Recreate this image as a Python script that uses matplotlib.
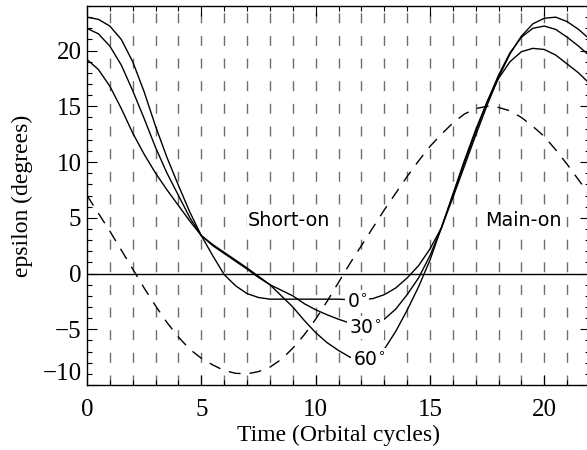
import matplotlib
matplotlib.use('Agg')
import matplotlib.pyplot as plt
from matplotlib.ticker import MultipleLocator

plt.rcParams['font.family'] = ['Liberation Serif', 'DejaVu Serif']
plt.rcParams['mathtext.fontset'] = 'dejavusans'

# ---- data ----
t = [0, 0.5, 1, 1.5, 2, 2.5, 3, 3.5, 4, 4.5, 5, 5.5, 6, 6.5, 7, 7.5, 8, 8.5,
     9, 9.5, 10, 10.5, 11, 11.5, 12, 12.5, 13, 13.5, 14, 14.5, 15, 15.5, 16,
     16.5, 17, 17.5, 18, 18.5, 19, 19.5, 20, 20.5, 21, 21.5, 22]

eps_0 = [23.0, 22.8, 22.2, 21.0, 19.0, 16.3, 13.2, 10.4, 7.9, 5.5, 3.4, 1.6,
         -0.1, -1.1, -1.8, -2.15, -2.3, -2.3, -2.3, -2.3, -2.3, -2.3, -2.3,
         -2.35, -2.35, -2.25, -1.9, -1.3, -0.4, 0.7, 2.2, 4.1, 6.8, 9.6, 12.4,
         15.1, 17.6, 19.7, 21.3, 22.4, 22.9, 23.0, 22.6, 21.9, 21.0]

eps_30 = [22.0, 21.5, 20.4, 18.7, 16.4, 13.9, 11.3, 9.0, 7.0, 5.0, 3.4, 2.5,
          1.8, 1.1, 0.4, -0.35, -1.0, -1.5, -2.0, -2.7, -3.25, -3.7, -4.1,
          -4.45, -4.7, -4.7, -4.1, -3.2, -1.9, -0.4, 1.6, 4.1, 7.0, 9.9, 12.7,
          15.4, 17.8, 19.8, 21.2, 22.0, 22.2, 21.9, 21.2, 20.4, 19.5]

eps_60 = [19.2, 18.3, 16.8, 14.8, 12.6, 10.7, 9.0, 7.5, 6.1, 4.7, 3.4, 2.6,
          1.9, 1.2, 0.5, -0.25, -1.0, -2.0, -3.0, -4.2, -5.3, -6.2, -6.9,
          -7.5, -7.8, -7.6, -6.8, -5.2, -3.3, -1.2, 1.2, 4.1, 7.1, 10.1, 12.9,
          15.4, 17.5, 19.0, 19.9, 20.2, 20.1, 19.6, 18.8, 18.0, 17.0]

eps_dashed = [7.0, 5.4, 3.8, 2.1, 0.4, -1.3, -2.9, -4.4, -5.7, -6.8, -7.6,
              -8.2, -8.7, -8.95, -9.0, -8.8, -8.4, -7.7, -6.7, -5.5, -4.1,
              -2.5, -0.8, 0.9, 2.5, 4.1, 5.7, 7.2, 8.7, 10.1, 11.4, 12.5, 13.5,
              14.3, 14.8, 15.0, 14.9, 14.6, 14.0, 13.2, 12.3, 11.1, 9.8, 8.4,
              7.0]

grid_x = list(range(1, 22))

curve_labels = [r'0$^{\circ}$', r'30$^{\circ}$', r'60$^{\circ}$']
label_x = [11.38, 11.48, 11.65]
label_y = [-2.5, -4.85, -7.7]

region_labels = ['Short-on', 'Main-on']
region_x = [7.05, 17.42]
region_y = [4.8, 4.75]

xticks = [0, 5, 10, 15, 20]
yticks = [-10, -5, 0, 5, 10, 15, 20]

# ---- figure ----
fig = plt.figure(figsize=(5.87, 4.5), dpi=100)
ax = fig.add_axes([87 / 587, 65 / 450, 503 / 587, 379 / 450])
ax.set_xlim(0, 22)
ax.set_ylim(-10, 24)

for gx in grid_x:
    ax.axvline(gx, color='#6e6e6e', lw=1.0, dashes=(7.2, 9.1), zorder=1)

ax.axhline(0, color='black', lw=1.0, zorder=2)

for ys in (eps_0, eps_30, eps_60):
    ax.plot(t, ys, color='black', lw=1.0, zorder=3)
ax.plot(t, eps_dashed, color='black', lw=1.0, dashes=(8.6, 6.5), zorder=3)

for s, x, y in zip(curve_labels, label_x, label_y):
    ax.text(x, y, s, family='DejaVu Sans', fontsize=13.5, ha='left',
            va='center', zorder=5,
            bbox=dict(facecolor='white', edgecolor='none', pad=1.5))

for s, x, y in zip(region_labels, region_x, region_y):
    ax.text(x, y, s, family='DejaVu Sans', fontsize=13.8, ha='left',
            va='center', zorder=5,
            bbox=dict(facecolor='white', edgecolor='none', pad=1.0))

ax.set_xticks(xticks)
ax.set_yticks(yticks)
ax.xaxis.set_minor_locator(MultipleLocator(1))
ax.yaxis.set_minor_locator(MultipleLocator(1))
ax.tick_params(which='both', direction='in', top=True, right=True,
               width=0.8, labelsize=18)
ax.tick_params(which='major', length=7.2)
ax.tick_params(which='minor', length=3.6)
ax.tick_params(axis='x', which='major', pad=10)
ax.tick_params(axis='y', which='major', pad=4)
for sp in ax.spines.values():
    sp.set_linewidth(1.0)

ax.get_yticklabels()[0].set_va('bottom')

ax.set_xlabel('Time (Orbital cycles)', fontsize=17, labelpad=3)
ax.set_ylabel('epsilon (degrees)', fontsize=17, labelpad=7)

fig.savefig('out.png', dpi=100)
